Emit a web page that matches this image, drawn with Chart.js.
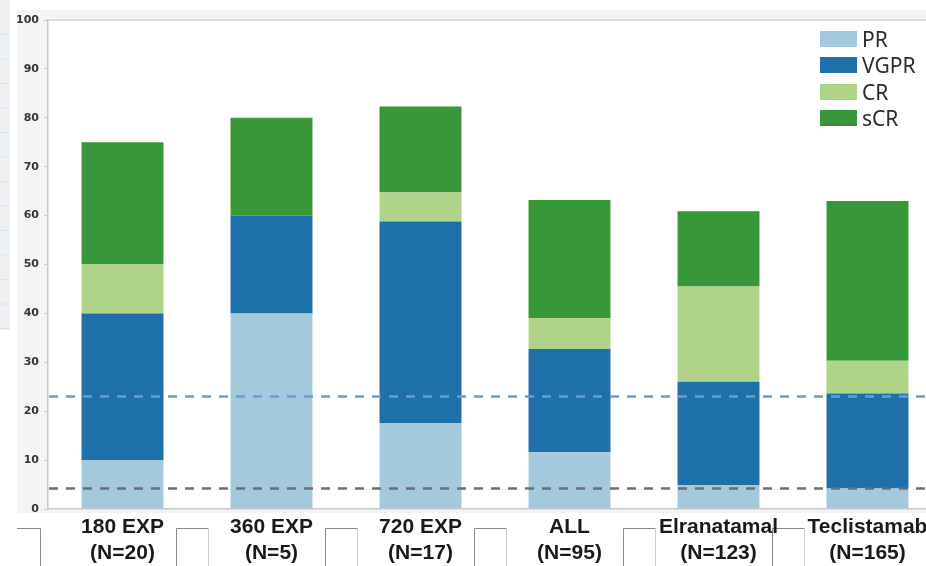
<!DOCTYPE html>
<html>
<head>
<meta charset="utf-8">
<script src="https://cdn.jsdelivr.net/npm/chart.js@4/dist/chart.umd.min.js"></script>
<style>
  html, body { margin: 0; padding: 0; background: #ffffff; overflow: hidden; width: 926px; height: 566px; }
  #wrap { position: absolute; left: 0; top: 0; width: 960px; height: 566px; }
  #legend { position: absolute; left: 820px; top: 26px; font-family: "Noto Sans", "Open Sans", sans-serif; font-size: 21px; color: #2b2b2b; }
  .item { height: 26.3px; display: flex; align-items: center; }
  .box { width: 37px; height: 16px; margin-right: 5px; }
</style>
</head>
<body>
<div id="wrap"><canvas id="c" width="960" height="566"></canvas></div>
<div id="legend"></div>
<script>
// ---- data ----
const categoryNames = ['180 EXP', '360 EXP', '720 EXP', 'ALL', 'Elranatamal', 'Teclistamab'];
const categoryN = ['(N=20)', '(N=5)', '(N=17)', '(N=95)', '(N=123)', '(N=165)'];
const seriesNames = ['PR', 'VGPR', 'CR', 'sCR'];
const prValues = [10, 40, 17.6, 11.6, 4.9, 4.2];
const vgprValues = [30, 20, 41.2, 21.1, 21.1, 19.4];
const crValues = [10, 0, 5.9, 6.3, 19.5, 6.7];
const scrValues = [25, 20, 17.6, 24.2, 15.4, 32.7];
const referenceLineValues = [23, 4.2];
const yTicks = [0, 10, 20, 30, 40, 50, 60, 70, 80, 90, 100];

// ---- styles ----
const seriesColors = ['#a5c9dc', '#1e70a8', '#aed389', '#389739'];
const refLineColors = ['#6b9bd6', '#6f6f6f'];

const labels = categoryNames.map((n, i) => [n, categoryN[i]]);
const seriesValues = [prValues, vgprValues, crValues, scrValues];

const datasets = seriesNames.map((name, i) => ({
  label: name,
  data: seriesValues[i],
  backgroundColor: seriesColors[i],
  borderWidth: 0,
  barPercentage: 0.55,
  categoryPercentage: 1.0,
  stack: 's'
}));

// HTML legend built from datasets
const legendEl = document.getElementById('legend');
datasets.forEach(ds => {
  const it = document.createElement('div'); it.className = 'item';
  const b = document.createElement('div'); b.className = 'box'; b.style.background = ds.backgroundColor;
  const t = document.createElement('span'); t.textContent = ds.label;
  it.appendChild(b); it.appendChild(t); legendEl.appendChild(it);
});

const backdrop = {
  id: 'backdrop',
  beforeDraw(chart) {
    const ctx = chart.ctx, a = chart.chartArea;
    ctx.save();
    ctx.fillStyle = '#ffffff';
    ctx.fillRect(0, 0, chart.width, chart.height);
    // left page strip
    ctx.fillStyle = '#eef1f4';
    ctx.fillRect(0, 0, 10, 330);
    ctx.strokeStyle = '#dde2e8'; ctx.lineWidth = 1;
    for (let y = 34; y < 330; y += 24.5) { ctx.beginPath(); ctx.moveTo(0, y + 0.5); ctx.lineTo(10, y + 0.5); ctx.stroke(); }
    // grey panel
    ctx.fillStyle = '#f4f4f4';
    ctx.fillRect(17, 10, chart.width - 17, a.bottom + 19 - 10);
    // plot area
    ctx.fillStyle = '#ffffff';
    ctx.fillRect(a.left, a.top, a.right - a.left, a.bottom - a.top);
    // top border
    ctx.strokeStyle = '#d4d4d4'; ctx.lineWidth = 1.5;
    ctx.beginPath(); ctx.moveTo(a.left, a.top); ctx.lineTo(chart.width, a.top); ctx.stroke();
    // label cells
    const xs = chart.scales.x;
    const centers = categoryNames.map((_, i) => xs.getPixelForValue(i));
    const bounds = [];
    for (let i = 0; i < centers.length - 1; i++) bounds.push((centers[i] + centers[i + 1]) / 2);
    ctx.fillStyle = '#ffffff';
    ctx.fillRect(17, a.bottom + 4, chart.width, chart.height);
    ctx.strokeStyle = '#8a8a8a'; ctx.lineWidth = 1;
    ctx.beginPath(); ctx.moveTo(17, a.bottom + 19.5); ctx.lineTo(40.5, a.bottom + 19.5); ctx.lineTo(40.5, chart.height); ctx.stroke();
    bounds.forEach(b => {
      const l = Math.round(b - 21) + 0.5, r = Math.round(b + 11) + 0.5;
      ctx.beginPath(); ctx.moveTo(l, chart.height); ctx.lineTo(l, a.bottom + 19.5); ctx.lineTo(r, a.bottom + 19.5); ctx.stroke();
      ctx.strokeStyle = '#cfcfcf';
      ctx.beginPath(); ctx.moveTo(r, a.bottom + 19.5); ctx.lineTo(r, chart.height); ctx.stroke();
      ctx.strokeStyle = '#8a8a8a';
    });
    ctx.restore();
  }
};

const refLines = {
  id: 'refLines',
  afterDatasetsDraw(chart) {
    const ctx = chart.ctx, a = chart.chartArea, ys = chart.scales.y;
    ctx.save();
    ctx.lineWidth = 2.5;
    ctx.setLineDash([9, 8]);
    referenceLineValues.forEach((v, i) => {
      const y = ys.getPixelForValue(v);
      ctx.strokeStyle = refLineColors[i];
      ctx.beginPath(); ctx.moveTo(a.left + 1, y); ctx.lineTo(a.right, y); ctx.stroke();
    });
    ctx.restore();
  }
};

new Chart(document.getElementById('c'), {
  type: 'bar',
  data: { labels: labels, datasets: datasets },
  options: {
    responsive: false,
    animation: false,
    devicePixelRatio: 1,
    layout: { padding: { top: 20, right: 18, left: 0, bottom: 0 } },
    plugins: { legend: { display: false }, tooltip: { enabled: false } },
    scales: {
      x: {
        stacked: true,
        afterFit(scale) { scale.height = 57; },
        grid: { display: false, drawTicks: false },
        border: { display: true, color: '#c9c9c9', width: 1.5 },
        ticks: {
          color: '#1a1a1a',
          padding: 6,
          maxRotation: 0,
          autoSkip: false,
          font: { family: '"Liberation Sans", Arial, sans-serif', size: 21, weight: 'bold', lineHeight: 1.2 }
        }
      },
      y: {
        stacked: true,
        min: 0, max: 100,
        afterFit(scale) { scale.width = 48; },
        afterBuildTicks(scale) { scale.ticks = yTicks.map(v => ({ value: v })); },
        grid: { display: true, drawOnChartArea: false, drawTicks: true, tickLength: 4, color: '#c9c9c9' },
        border: { display: true, color: '#c9c9c9', width: 1.5 },
        ticks: {
          color: '#3a3330',
          padding: 5,
          font: { family: '"DejaVu Sans", sans-serif', size: 11, weight: 'bold' }
        }
      }
    }
  },
  plugins: [backdrop, refLines]
});
</script>
</body>
</html>
